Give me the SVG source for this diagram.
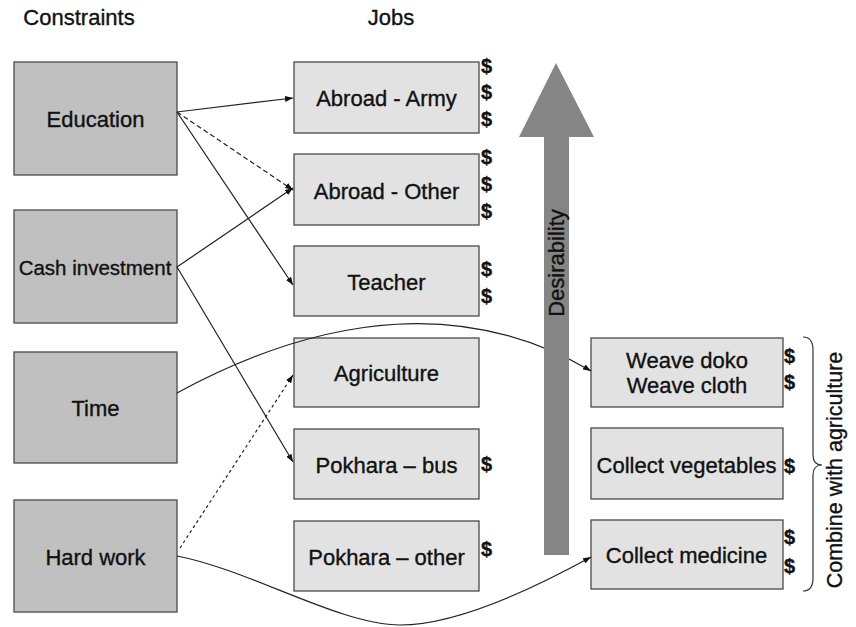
<svg xmlns="http://www.w3.org/2000/svg" width="856" height="627" viewBox="0 0 856 627">
<style>
text{font-family:"Liberation Sans",Arial,sans-serif;fill:#111;stroke:#111;stroke-width:0.35}
.lbl{font-size:22px;text-anchor:middle}
.con{fill:#c0c0c0;stroke:#4a4a4a;stroke-width:1.3}
.job{fill:#e2e2e2;stroke:#4a4a4a;stroke-width:1.3}
.dol{font-size:20px;font-weight:bold}
.ln{fill:none;stroke:#222;stroke-width:1.2;marker-end:url(#ah)}
</style>
<defs>
<marker id="ah" markerUnits="userSpaceOnUse" markerWidth="8" markerHeight="6" refX="8" refY="3" orient="auto">
<path d="M0,0 L8,3 L0,6 z" fill="#111"/>
</marker>
</defs>
<rect width="856" height="627" fill="#fff"/>
<text x="79" y="25" class="lbl">Constraints</text>
<text x="391" y="25" class="lbl">Jobs</text>

<g id="education"><rect class="con" x="14" y="62" width="163" height="113"/><text class="lbl" x="95.5" y="127">Education</text></g>
<g id="cash"><rect class="con" x="14" y="210" width="163" height="113"/><text class="lbl" x="95" y="275" style="font-size:20.5px">Cash investment</text></g>
<g id="time"><rect class="con" x="14" y="352" width="163" height="111"/><text class="lbl" x="95.5" y="416">Time</text></g>
<g id="hardwork"><rect class="con" x="14" y="500" width="163" height="112"/><text class="lbl" x="95.5" y="565">Hard work</text></g>

<g id="army"><rect class="job" x="294" y="62" width="185" height="71"/><text class="lbl" x="386.5" y="106">Abroad - Army</text>
<text class="dol" x="481" y="73">$</text><text class="dol" x="481" y="99">$</text><text class="dol" x="481" y="126">$</text></g>
<g id="other"><rect class="job" x="294" y="154" width="185" height="71"/><text class="lbl" x="386.5" y="199">Abroad - Other</text>
<text class="dol" x="481" y="164">$</text><text class="dol" x="481" y="191">$</text><text class="dol" x="481" y="218">$</text></g>
<g id="teacher"><rect class="job" x="294" y="246" width="185" height="70"/><text class="lbl" x="386.5" y="290">Teacher</text>
<text class="dol" x="481" y="276">$</text><text class="dol" x="481" y="303">$</text></g>
<g id="agriculture"><rect class="job" x="294" y="338" width="185" height="69"/><text class="lbl" x="386.5" y="381">Agriculture</text></g>
<g id="bus"><rect class="job" x="294" y="429" width="185" height="70"/><text class="lbl" x="386.5" y="473">Pokhara – bus</text>
<text class="dol" x="481" y="471">$</text></g>
<g id="pother"><rect class="job" x="294" y="521" width="185" height="70"/><text class="lbl" x="386.5" y="565">Pokhara – other</text>
<text class="dol" x="481" y="556">$</text></g>

<g id="weave"><rect class="job" x="591" y="338" width="192" height="69"/><text class="lbl" x="687" y="368">Weave doko</text><text class="lbl" x="687" y="393">Weave cloth</text>
<text class="dol" x="784" y="363">$</text><text class="dol" x="784" y="389">$</text></g>
<g id="vegetables"><rect class="job" x="591" y="428" width="192" height="71"/><text class="lbl" x="686.5" y="473">Collect vegetables</text>
<text class="dol" x="784" y="473">$</text></g>
<g id="medicine"><rect class="job" x="591" y="520" width="192" height="69"/><text class="lbl" x="686.5" y="563">Collect medicine</text>
<text class="dol" x="784" y="544">$</text><text class="dol" x="784" y="573">$</text></g>

<g id="connectors">
<path class="ln" d="M177,112 L293,98"/>
<path class="ln" d="M177,112 L293,190" stroke-dasharray="5,3"/>
<path class="ln" d="M177,112 L293,285"/>
<path class="ln" d="M177,267 L293,188"/>
<path class="ln" d="M177,267 L293,462"/>
<path class="ln" d="M180,548 L293,375" stroke-dasharray="3,3"/>
<path class="ln" d="M177,393 C330,310 470,300 591,371"/>
<path class="ln" d="M177,556 C250,570 340,625 400,625 C460,625 540,585 591,557"/>
</g>

<g id="desirability">
<path d="M544,137 L519,137 L556,63 L594,137 L569,137 L569,555 L544,555 z" fill="#858585"/>
<text class="lbl" transform="translate(564,263) rotate(-90)">Desirability</text>
</g>

<g id="combine">
<path d="M803,337 Q813,337 813,350 L813,455 Q813,465 822,465 Q813,465 813,475 L813,578 Q813,591 803,591" fill="none" stroke="#333" stroke-width="1.2"/>
<text class="lbl" style="font-size:21.5px" transform="translate(842,470) rotate(-90)">Combine with agriculture</text>
</g>
</svg>
